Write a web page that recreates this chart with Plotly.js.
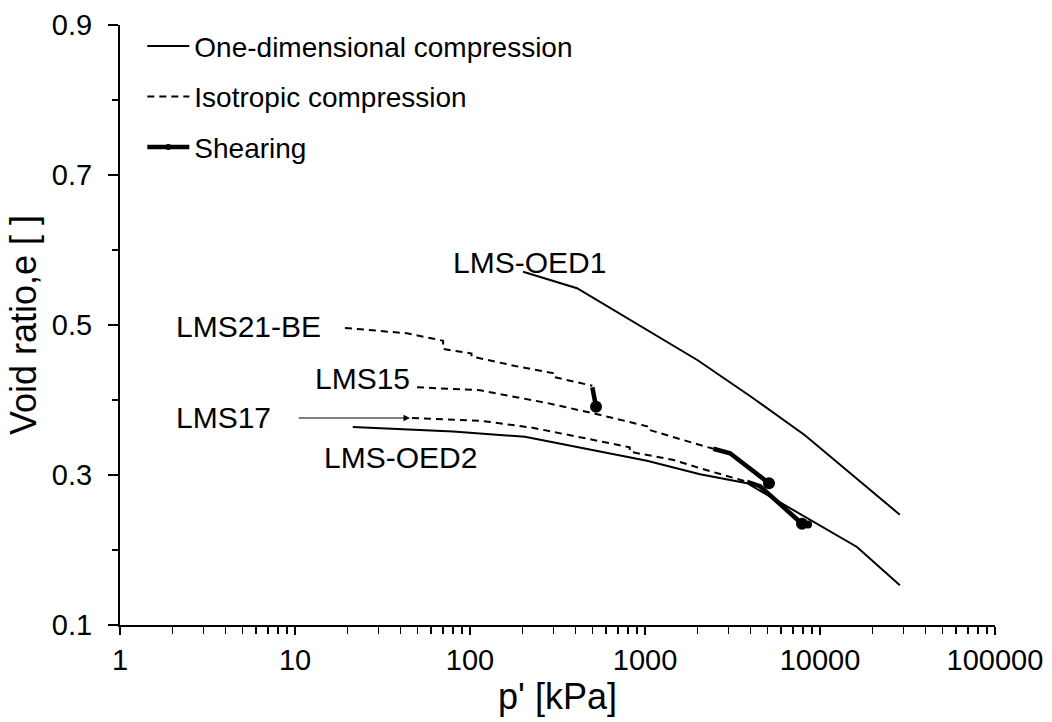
<!DOCTYPE html>
<html>
<head>
<meta charset="utf-8">
<script src="https://cdn.plot.ly/plotly-3.0.1.min.js"></script>
<style>
  html, body { margin: 0; padding: 0; background: #fff; }
  #chart { width: 1052px; height: 722px; }
</style>
</head>
<body>
<div id="chart"></div>
<script>
"use strict";

// One-dimensional compression (oedometer)
const oed1P = [201, 409, 2000, 4000, 8200, 28600];
const oed1E = [0.571, 0.549, 0.453, 0.405, 0.353, 0.247];
const oed2P = [21.4, 80, 206, 1026, 2063, 3833, 16270, 28600];
const oed2E = [0.364, 0.358, 0.351, 0.319, 0.301, 0.289, 0.204, 0.153];

// Isotropic compression
const iso21P = [19.3, 43.6, 70.2, 70.2, 102, 102, 193, 297, 297, 400, 500];
const iso21E = [0.496, 0.489, 0.479, 0.468, 0.462, 0.458, 0.444, 0.436, 0.431, 0.424, 0.419];
const iso15P = [49.8, 114, 276, 533, 1026, 1026, 2063, 2460];
const iso15E = [0.417, 0.413, 0.396, 0.381, 0.365, 0.361, 0.340, 0.335];
const iso17P = [46.6, 118, 228, 466, 818, 818, 1460, 2063, 3833];
const iso17E = [0.376, 0.372, 0.363, 0.349, 0.337, 0.331, 0.320, 0.309, 0.291];

// Shearing
const sh21P = [500, 525];
const sh21E = [0.417, 0.391];
const sh15P = [2460, 3062, 5112];
const sh15E = [0.335, 0.329, 0.289];
const sh17P = [3833, 4540, 7890, 8540];
const sh17E = [0.291, 0.285, 0.235, 0.234];

// Curve labels
const labelText = ["LMS-OED1", "LMS21-BE", "LMS15", "LMS17", "LMS-OED2"];
const labelP = [220, 5.39, 24.2, 3.9, 40.3];
const labelE = [0.584, 0.498, 0.429, 0.377, 0.323];

const FONT = "'Liberation Sans', Arial, sans-serif";
const DASH = "7px,5px";

function solid(x, y, name, show) {
  return {
    type: "scatter", mode: "lines", x, y, name,
    showlegend: show, legendgroup: name,
    line: { color: "#000", width: 2 },
  };
}

function dashed(x, y, name, show) {
  return {
    type: "scatter", mode: "lines", x, y, name,
    showlegend: show, legendgroup: name,
    line: { color: "#000", width: 2, dash: DASH },
  };
}

function shear(x, y, show) {
  // marker only on the end point(s)
  const sizes = x.map((v, i) => (i === x.length - 1 ? 12 : 0));
  if (x.length === 4) { sizes[2] = 12; sizes[3] = 8; }
  return {
    type: "scatter", mode: "lines+markers", x, y, name: "Shearing",
    showlegend: show, legendgroup: "Shearing",
    line: { color: "#000", width: 4.5 },
    marker: { color: "#000", size: sizes, opacity: 1, line: { width: 0 } },
  };
}

const traces = [
  solid(oed1P, oed1E, "One-dimensional compression", true),
  solid(oed2P, oed2E, "One-dimensional compression", false),
  dashed(iso21P, iso21E, "Isotropic compression", true),
  dashed(iso15P, iso15E, "Isotropic compression", false),
  dashed(iso17P, iso17E, "Isotropic compression", false),
  shear(sh21P, sh21E, true),
  shear(sh15P, sh15E, false),
  shear(sh17P, sh17E, false),
];

const annotations = labelText.map((t, i) => ({
  x: Math.log10(labelP[i]), y: labelE[i], text: t,
  showarrow: false, xanchor: "center", yanchor: "middle",
  font: { family: FONT, size: 30, color: "#000" },
}));

// arrow pointing at the start of LMS17
annotations.push({
  x: Math.log10(45.4), y: 0.376, ax: Math.log10(10.3), ay: 0.376,
  axref: "x", ayref: "y", text: "", showarrow: true,
  arrowhead: 2, arrowsize: 1.3, arrowwidth: 1, arrowcolor: "#000",
});

const layout = {
  width: 1052, height: 722,
  paper_bgcolor: "#fff", plot_bgcolor: "#fff",
  font: { family: FONT, size: 29, color: "#000" },
  margin: { l: 120, r: 57, t: 25, b: 97 },
  showlegend: true,
  legend: {
    x: 0.0255, y: 1.006, xanchor: "left", yanchor: "top",
    bgcolor: "rgba(0,0,0,0)", tracegroupgap: 11, itemwidth: 42,
    font: { family: FONT, size: 28, color: "#000" },
  },
  xaxis: {
    type: "log", range: [0, 5],
    dtick: 1, tickformat: "d",
    ticks: "outside", ticklen: 8, tickwidth: 2, tickcolor: "#000",
    minor: { ticks: "outside", ticklen: 7, tickwidth: 1.5, tickcolor: "#000", dtick: "D1", showgrid: false },
    showline: true, linecolor: "#000", linewidth: 2,
    showgrid: false, zeroline: false,
    tickfont: { family: FONT, size: 29 },
    title: { text: "p' [kPa]", font: { family: FONT, size: 36 }, standoff: 4 },
  },
  yaxis: {
    range: [0.1, 0.9], dtick: 0.2, tick0: 0.1, tickformat: ".1f",
    ticks: "outside", ticklen: 10, tickwidth: 2, tickcolor: "#000",
    ticklabelstandoff: 10,
    minor: { ticks: "outside", ticklen: 6, tickwidth: 1.5, tickcolor: "#000", dtick: 0.1, showgrid: false },
    showline: true, linecolor: "#000", linewidth: 2,
    showgrid: false, zeroline: false,
    tickfont: { family: FONT, size: 29 },
    title: { text: "Void ratio,e [ ]", font: { family: FONT, size: 36 }, standoff: 4 },
  },
  annotations,
};

Plotly.newPlot("chart", traces, layout, { displayModeBar: false, staticPlot: true });
</script>
</body>
</html>
